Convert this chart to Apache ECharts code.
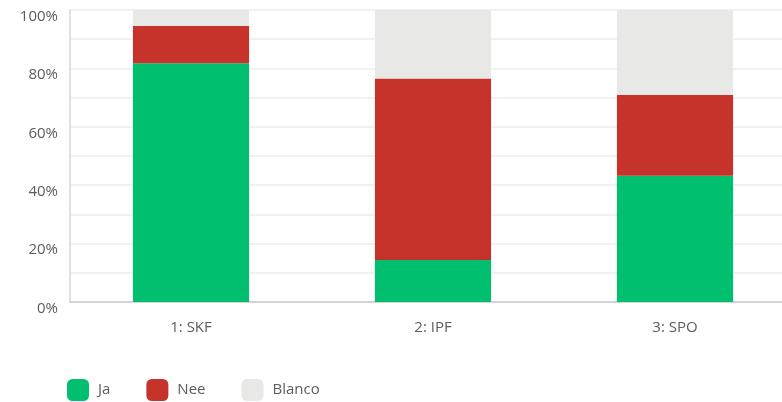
<!DOCTYPE html>
<html>
<head>
<meta charset="utf-8">
<script src="https://cdn.jsdelivr.net/npm/echarts@6/dist/echarts.min.js"></script>
<style>
  html, body { margin: 0; padding: 0; background: #fff; overflow: hidden; }
  #chart { width: 800px; height: 402px; }
</style>
</head>
<body>
<div id="chart"></div>
<script>
const categories = ['1: SKF', '2: IPF', '3: SPO']
const jaValues = [81.8, 14.4, 43.2]
const neeValues = [12.7, 62.1, 27.7]
const blancoValues = [5.5, 23.5, 29.1]
const yTicks = [0, 20, 40, 60, 80, 100]

const chart = echarts.init(document.getElementById('chart'))
const fontFamily = '"Open Sans", "Noto Sans", sans-serif'

chart.setOption({
  animation: false,
  textStyle: { fontFamily: fontFamily },
  grid: { left: 70, top: 10, width: 726, height: 292 },
  legend: {
    left: 67,
    bottom: 1,
    padding: 0,
    itemWidth: 22,
    itemHeight: 22,
    itemGap: 36,
    icon: 'roundRect',
    textStyle: { color: '#5c5c5c', fontSize: 15, fontFamily: fontFamily, padding: [0, 0, 0, 4] },
    data: ['Ja', 'Nee', 'Blanco']
  },
  xAxis: {
    type: 'category',
    data: categories,
    axisLine: { lineStyle: { color: '#d3d3d3', width: 2 } },
    axisTick: { show: false },
    axisLabel: { color: '#5c5c5c', fontSize: 15, margin: 18 }
  },
  yAxis: {
    type: 'value',
    min: 0,
    max: 100,
    interval: 10,
    axisLine: { show: true, lineStyle: { color: '#e0e0e0', width: 2 } },
    axisTick: { show: false },
    splitLine: { lineStyle: { color: '#ececec', width: 1.5 } },
    axisLabel: {
      color: '#5c5c5c',
      fontSize: 15,
      margin: 12,
      verticalAlign: 'top',
      lineHeight: 13,
      formatter: function (v) {
        return yTicks.indexOf(v) >= 0 ? v + '%' : ''
      }
    }
  },
  series: [
    { name: 'Ja', type: 'bar', stack: 'total', barWidth: '48%', data: jaValues, itemStyle: { color: '#00bf6f' } },
    { name: 'Nee', type: 'bar', stack: 'total', data: neeValues, itemStyle: { color: '#c6332b' } },
    { name: 'Blanco', type: 'bar', stack: 'total', data: blancoValues, itemStyle: { color: '#e8e8e6' } }
  ]
})
</script>
</body>
</html>
